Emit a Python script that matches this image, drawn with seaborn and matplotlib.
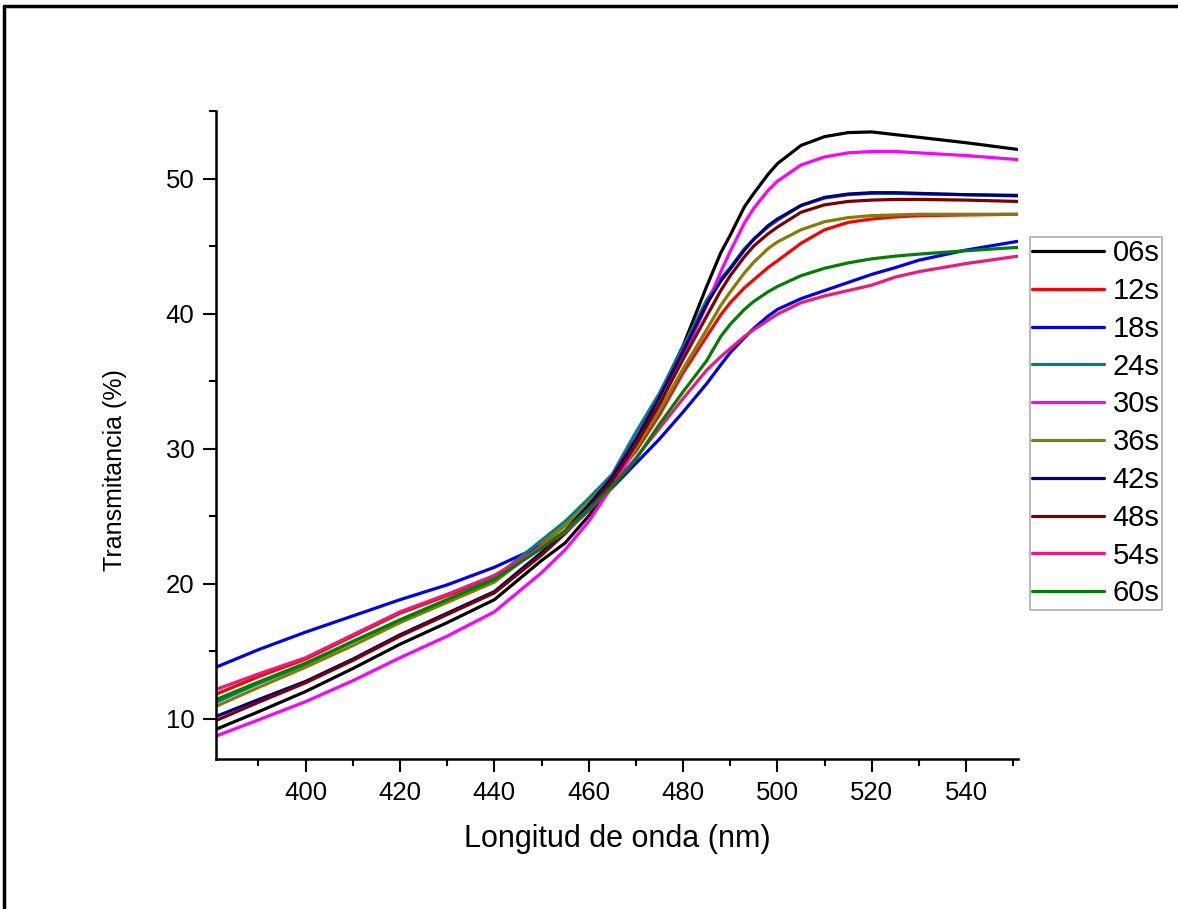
import numpy as np
import pandas as pd
import matplotlib
matplotlib.use("Agg")
import matplotlib.pyplot as plt
from matplotlib.lines import Line2D
import seaborn as sns

# Longitudes de onda (nm) donde se leyeron los valores
longitud = [381, 390, 400, 410, 420, 430, 440, 450, 455, 460, 465, 470, 475,
            480, 485, 488, 490, 493, 495, 498, 500, 505, 510, 515, 520, 525, 530, 540, 551]

t06 = [9.2, 10.5, 12.0, 13.7, 15.5, 17.1, 18.8, 21.7, 23.0, 25.0, 27.3, 30.1, 34.0,
       37.6, 42.0, 44.5, 45.8, 47.9, 48.9, 50.3, 51.1, 52.45, 53.1, 53.4, 53.45, 53.25, 53.05, 52.65, 52.15]
t12 = [11.8, 13.1, 14.4, 16.1, 17.8, 19.1, 20.5, 22.9, 24.3, 25.9, 27.8, 29.8, 32.5,
       35.6, 38.3, 39.9, 40.8, 41.9, 42.5, 43.4, 43.9, 45.2, 46.2, 46.75, 47.0, 47.15, 47.25, 47.3, 47.35]
t18 = [13.8, 15.1, 16.4, 17.6, 18.8, 19.9, 21.2, 22.8, 23.8, 25.4, 27.1, 28.9, 30.7,
       32.7, 34.8, 36.2, 37.1, 38.2, 38.9, 39.8, 40.3, 41.1, 41.7, 42.3, 42.9, 43.4, 43.95, 44.7, 45.35]
t24 = [11.2, 12.6, 14.0, 15.7, 17.3, 18.8, 20.4, 23.2, 24.6, 26.3, 28.1, 31.2, 34.1,
       37.5, 41.0, 42.6, 43.4, 44.8, 45.5, 46.4, 46.9, 48.0, 48.55, 48.8, 48.9, 48.9, 48.85, 48.8, 48.7]
t30 = [8.7, 9.9, 11.25, 12.8, 14.5, 16.1, 17.9, 20.8, 22.5, 24.6, 27.2, 30.0, 33.2,
       36.8, 40.6, 43.1, 44.6, 46.7, 47.8, 49.1, 49.8, 51.0, 51.6, 51.9, 52.0, 52.0, 51.9, 51.7, 51.4]
t36 = [10.9, 12.3, 13.8, 15.4, 17.1, 18.6, 20.1, 22.8, 24.3, 26.0, 27.9, 30.0, 32.8,
       35.9, 38.8, 40.6, 41.6, 43.0, 43.8, 44.8, 45.3, 46.2, 46.8, 47.1, 47.25, 47.3, 47.35, 47.35, 47.35]
t42 = [10.15, 11.4, 12.75, 14.4, 16.2, 17.8, 19.4, 22.3, 23.9, 25.8, 27.9, 30.7, 33.8,
       37.2, 40.7, 42.4, 43.3, 44.7, 45.5, 46.5, 47.0, 48.0, 48.6, 48.85, 48.95, 48.95, 48.9, 48.8, 48.75]
t48 = [9.85, 11.2, 12.65, 14.3, 16.1, 17.7, 19.3, 22.1, 23.7, 25.5, 27.6, 30.3, 33.3,
       36.6, 39.8, 41.7, 42.8, 44.2, 45.0, 45.9, 46.4, 47.5, 48.05, 48.3, 48.4, 48.45, 48.45, 48.4, 48.3]
t54 = [12.15, 13.3, 14.5, 16.2, 17.9, 19.2, 20.6, 22.7, 23.8, 25.4, 27.2, 29.3, 31.5,
       33.7, 35.8, 36.8, 37.4, 38.3, 38.8, 39.5, 39.95, 40.8, 41.3, 41.7, 42.1, 42.7, 43.1, 43.7, 44.25]
t60 = [11.4, 12.7, 14.1, 15.7, 17.3, 18.8, 20.3, 22.6, 23.9, 25.5, 27.2, 29.2, 31.8,
       34.2, 36.5, 38.3, 39.2, 40.3, 40.9, 41.6, 42.0, 42.8, 43.35, 43.75, 44.05, 44.25, 44.4, 44.65, 44.9]

etiquetas = ['06s', '12s', '18s', '24s', '30s', '36s', '42s', '48s', '54s', '60s']
series = [t06, t12, t18, t24, t30, t36, t42, t48, t54, t60]
colores = ['#000000', '#FF0000', '#0000FF', '#008080', '#FF00FF',
           '#808000', '#000080', '#800000', '#F0187F', '#008000']

df = pd.concat([pd.DataFrame({'longitud': longitud, 'T': s, 'tiempo': e})
                for s, e in zip(series, etiquetas)], ignore_index=True)

sns.set_style("ticks")
plt.rcParams['font.family'] = ['Liberation Sans', 'DejaVu Sans']
plt.rcParams['text.color'] = 'black'
plt.rcParams['axes.labelcolor'] = 'black'

fig = plt.figure(figsize=(11.78, 9.09), dpi=100)
ax = fig.add_axes([216 / 1178, 1 - 759 / 909, (1018 - 216) / 1178, (759 - 111) / 909])

paleta = dict(zip(etiquetas, colores))
sns.lineplot(data=df, x='longitud', y='T', hue='tiempo', palette=paleta,
             hue_order=etiquetas, sort=False, linewidth=2.3, legend=False, ax=ax)

ax.set_xlim(381, 551)
ax.set_ylim(7, 55)
ax.set_xticks(np.arange(400, 541, 20))
ax.set_xticks(np.arange(390, 551, 10), minor=True)
ax.set_yticks(np.arange(10, 51, 10))
ax.set_yticks(np.arange(15, 56, 10), minor=True)
ax.tick_params(which='major', length=9.5, width=1.5, labelsize=18.5,
               colors='black', labelcolor='black', pad=6)
ax.tick_params(which='minor', length=4.8, width=1.5, colors='black')
for lado in ['top', 'right']:
    ax.spines[lado].set_visible(False)
for lado in ['left', 'bottom']:
    ax.spines[lado].set_linewidth(1.8)
    ax.spines[lado].set_color('black')

ax.set_xlabel('Longitud de onda (nm)', fontsize=22, labelpad=14)
ax.set_ylabel('Transmitancia (%)', fontsize=18)
ax.yaxis.set_label_coords(-0.111, 0.446)

handles = [Line2D([], [], color=c, linewidth=2.3) for c in colores]
leg = fig.legend(handles, etiquetas, loc='upper left',
                 bbox_to_anchor=(1030 / 1178, 1 - 237 / 909), fontsize=21,
                 frameon=True, fancybox=False, handlelength=2.45, handletextpad=0.3,
                 labelspacing=0.335, borderpad=0.08, borderaxespad=0)
leg.get_frame().set_edgecolor('#999999')
leg.get_frame().set_linewidth(1.2)

# marco de la figura (solo arriba e izquierda)
fig.add_artist(Line2D([4 / 1178, 4 / 1178], [0, 1 - 6 / 909], color='black',
                      linewidth=2.5, transform=fig.transFigure))
fig.add_artist(Line2D([4 / 1178, 1], [1 - 6 / 909, 1 - 6 / 909], color='black',
                      linewidth=2.5, transform=fig.transFigure))

fig.savefig('out.png', dpi=100, facecolor='white')
